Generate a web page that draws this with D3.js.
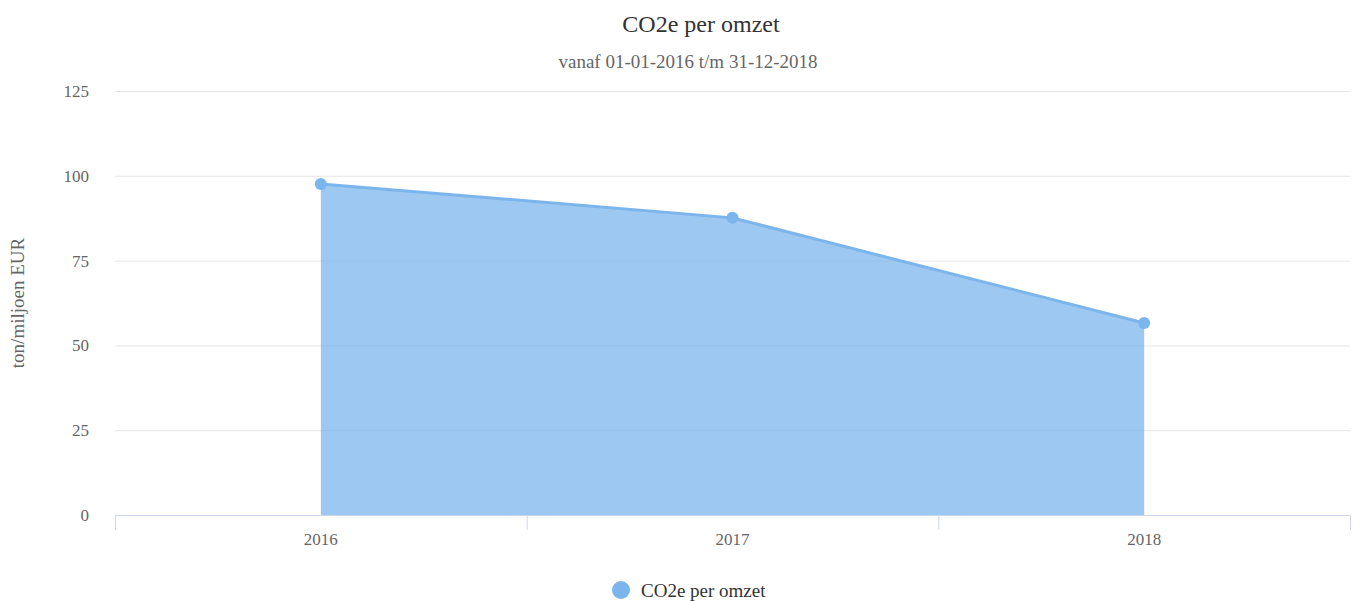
<!DOCTYPE html>
<html><head><meta charset="utf-8">
<script src="https://cdn.jsdelivr.net/npm/d3@7"></script>
<style>body{margin:0;background:#fff}svg{display:block;font-family:"Liberation Serif","Times New Roman",serif}</style>
</head><body><svg id="c" width="1353" height="601"></svg>
<script>
const categories = ["2016", "2017", "2018"];
const values = [97.6, 87.6, 56.6];
const yTicks = [0, 25, 50, 75, 100, 125];
const seriesName = "CO2e per omzet";

(function () {
const svg = d3.select("#c");
const pLeft = 115, pRight = 1350, pTop = 91, pBottom = 515;
const x = d3.scaleBand().domain(categories).range([pLeft, pRight]);
const y = d3.scaleLinear().domain([0, 125]).range([pBottom, pTop]);
const cx = d => x(d) + x.bandwidth() / 2;

// gridlines
svg.append("g").selectAll("line").data(yTicks.filter(t => t > 0)).join("line")
  .attr("x1", pLeft).attr("x2", pRight).attr("y1", d => y(d) + 0.5).attr("y2", d => y(d) + 0.5)
  .attr("stroke", "#e6e6e6").attr("stroke-width", 1);

// y labels
svg.append("g").selectAll("text").data(yTicks).join("text")
  .attr("x", 89).attr("y", d => y(d) + 6).attr("text-anchor", "end")
  .attr("font-size", 17).attr("fill", "#666").text(d => d);

// y title
svg.append("text").attr("transform", `translate(24,${(pTop + pBottom) / 2}) rotate(-90)`)
  .attr("text-anchor", "middle").attr("font-size", 19).attr("fill", "#666").text("ton/miljoen EUR");

// area
const data = categories.map((c, i) => ({c, v: values[i]}));
svg.append("path").datum(data)
  .attr("d", d3.area().x(d => cx(d.c)).y0(y(0)).y1(d => y(d.v)))
  .attr("fill", "#7cb5ec").attr("fill-opacity", 0.75);
svg.append("path").datum(data)
  .attr("d", d3.line().x(d => cx(d.c)).y(d => y(d.v)))
  .attr("fill", "none").attr("stroke", "#7cb5ec").attr("stroke-width", 3);
svg.append("g").selectAll("circle").data(data).join("circle")
  .attr("cx", d => cx(d.c)).attr("cy", d => y(d.v)).attr("r", 6).attr("fill", "#7cb5ec");

// x axis
svg.append("line").attr("x1", pLeft).attr("x2", pRight).attr("y1", pBottom + 0.5).attr("y2", pBottom + 0.5)
  .attr("stroke", "#ccd6eb").attr("stroke-width", 1);
const bounds = categories.map(c => x(c)).concat([pRight]);
svg.append("g").selectAll("line").data(bounds).join("line")
  .attr("x1", d => d + 0.5).attr("x2", d => d + 0.5).attr("y1", pBottom).attr("y2", pBottom + 15)
  .attr("stroke", "#ccd6eb");
svg.append("g").selectAll("text").data(categories).join("text")
  .attr("x", d => cx(d)).attr("y", pBottom + 30).attr("text-anchor", "middle")
  .attr("font-size", 17).attr("fill", "#666").text(d => d);

// title
svg.append("text").attr("x", 701).attr("y", 32).attr("text-anchor", "middle")
  .attr("font-size", 24).attr("fill", "#333").text("CO2e per omzet");
svg.append("text").attr("x", 688).attr("y", 68).attr("text-anchor", "middle")
  .attr("font-size", 19).attr("fill", "#666").text("vanaf 01-01-2016 t/m 31-12-2018");

// legend
svg.append("circle").attr("cx", 621).attr("cy", 590).attr("r", 9).attr("fill", "#7cb5ec");
svg.append("text").attr("x", 641).attr("y", 597).attr("font-size", 19).attr("fill", "#333").text(seriesName);
})();
</script></body></html>
